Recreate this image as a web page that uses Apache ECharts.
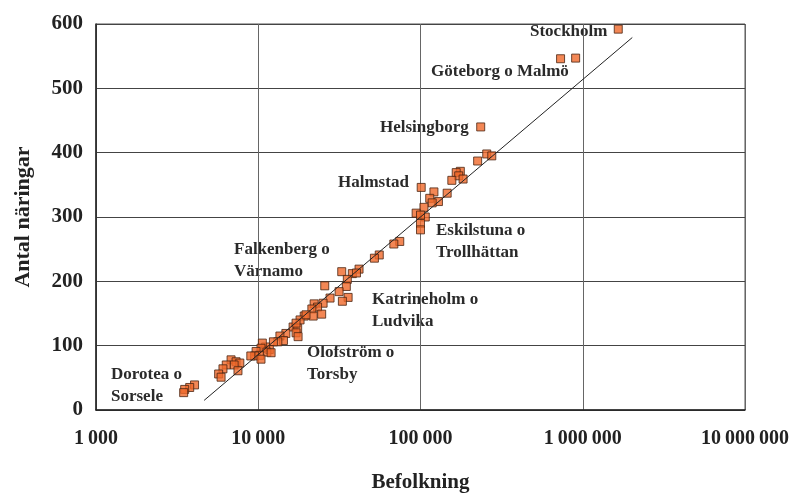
<!DOCTYPE html>
<html>
<head>
<meta charset="utf-8">
<script src="https://cdn.jsdelivr.net/npm/echarts@6/dist/echarts.min.js"></script>
<style>
  html, body { margin: 0; padding: 0; background: #fff; }
  #chart { width: 792px; height: 494px; }
</style>
</head>
<body>
<div id="chart"></div>
<script>
// befolkning (x) och antal näringar (y) per ort
const population = [
  1655000, 730000, 904000, 235000,
  256000, 275000, 225000, 176000, 166000, 172000, 156000, 183000,
  101000, 121000, 146000, 114000, 129000, 118000, 105000, 94000, 107000, 100000, 100000, 100000,
  74500, 68500, 55700, 52000,
  32700, 38000, 41800, 40300, 35400, 25700, 34900, 31500, 35800, 33000, 27700, 25100, 22100,
  23200, 21400, 24600, 21800, 19200, 18100, 16400, 17500,
  19700, 17100, 17100, 17600, 14800, 13600, 14300, 13200, 12400, 11700, 11100, 10600, 10400,
  11300, 12000, 9700, 10200, 9500, 9000, 10400,
  6800, 7300, 7700, 7100, 7500, 6350, 6060, 5700, 5900,
  4050, 3780, 3520, 3470
]
const businesses = [
  592, 546, 547, 440,
  398, 395, 387, 371, 369, 364, 357, 359,
  346, 339, 337, 329, 324, 322, 315, 306, 300, 303, 290, 280,
  262, 258, 241, 236,
  215, 212, 219, 213, 203, 193, 192, 184, 175, 169, 174, 166, 165,
  160, 157, 149, 146, 146, 140, 129, 127,
  148, 135, 120, 114, 119, 115, 108, 106, 106, 94, 98, 104, 96,
  90, 89, 91, 85, 84, 84, 79,
  78, 75, 73, 70, 61, 70, 64, 56, 51,
  39, 35, 32, 27
]
// trendlinje, ändpunkter avlästa
const trendX = [4640, 2020000]
const trendY = [15, 579]

const xTicks = {
  1000: '1\u2009000',
  10000: '10\u2009000',
  100000: '100\u2009000',
  1000000: '1\u2009000\u2009000',
  10000000: '10\u2009000\u2009000'
}

const font = '"Liberation Serif", "DejaVu Serif", serif'

const chart = echarts.init(document.getElementById('chart'))
const textStyle = { font: 'bold 17px ' + font, fill: '#2a2a2a' }
function note(x, y, text) {
  return { type: 'text', left: x, top: y, style: Object.assign({ text: text, lineHeight: 22 }, textStyle) }
}

chart.setOption({
  backgroundColor: '#fff',
  animation: false,
  grid: {
    left: 96,
    right: 47,
    top: 24,
    bottom: 84,
    outerBoundsMode: 'none',
    show: true,
    borderColor: '#555',
    borderWidth: 1
  },
  xAxis: {
    type: 'log',
    logBase: 10,
    min: 1000,
    max: 10000000,
    name: 'Befolkning',
    nameLocation: 'middle',
    nameGap: 62,
    nameTextStyle: { fontFamily: font, fontWeight: 'bold', fontSize: 21, color: '#222' },
    axisLine: { lineStyle: { color: '#222', width: 1.5 } },
    axisTick: { show: false },
    axisLabel: {
      fontFamily: font, fontWeight: 'bold', fontSize: 20, color: '#222', margin: 19,
      hideOverlap: false,
      formatter: function (v) { return xTicks[Math.round(v)] || '' }
    },
    splitLine: { show: true, lineStyle: { color: '#666', width: 1 } }
  },
  yAxis: {
    type: 'value',
    min: 0,
    max: 600,
    interval: 100,
    name: 'Antal näringar',
    nameLocation: 'middle',
    nameGap: 62,
    nameTextStyle: { fontFamily: font, fontWeight: 'bold', fontSize: 22, color: '#222' },
    axisLine: { show: true, lineStyle: { color: '#222', width: 1.5 } },
    axisTick: { show: false },
    axisLabel: { fontFamily: font, fontWeight: 'bold', fontSize: 21, color: '#222', margin: 13 },
    splitLine: { show: true, lineStyle: { color: '#444', width: 1 } }
  },
  series: [
    {
      type: 'line',
      data: trendX.map(function (x, i) { return [x, trendY[i]] }),
      symbol: 'none',
      lineStyle: { color: '#222', width: 1 },
      silent: true
    },
    {
      type: 'scatter',
      symbol: 'rect',
      symbolSize: 8,
      data: population.map(function (x, i) { return [x, businesses[i]] }),
      itemStyle: { color: '#F0692A', borderColor: '#4a2412', borderWidth: 1 }
    }
  ],
  graphic: [
    note(530, 21, 'Stockholm'),
    note(431, 61, 'Göteborg o Malmö'),
    note(380, 117, 'Helsingborg'),
    note(338, 172, 'Halmstad'),
    note(436, 220, 'Eskilstuna o\nTrollhättan'),
    note(234, 239, 'Falkenberg o\nVärnamo'),
    note(372, 289, 'Katrineholm o\nLudvika'),
    note(307, 342, 'Olofström o\nTorsby'),
    note(111, 364, 'Dorotea o\nSorsele')
  ]
})
</script>
</body>
</html>
